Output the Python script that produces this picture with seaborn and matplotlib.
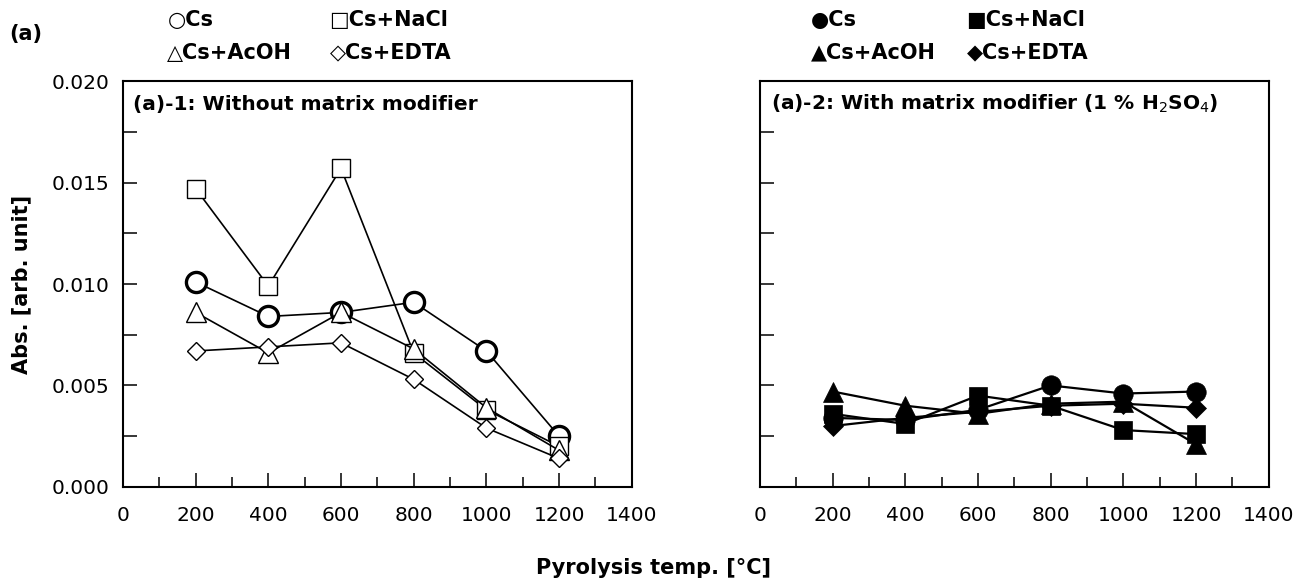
import numpy as np
import pandas as pd
import matplotlib
matplotlib.use("Agg")
import matplotlib.pyplot as plt
import seaborn as sns
from matplotlib.ticker import MultipleLocator, FormatStrFormatter

# data
temps = [200, 400, 600, 800, 1000, 1200]
series = ["Cs", "Cs+NaCl", "Cs+AcOH", "Cs+EDTA"]

# (a)-1: without matrix modifier
no_mod_cs   = [0.0101, 0.0084, 0.0086, 0.0091, 0.0067, 0.0025]
no_mod_nacl = [0.0147, 0.0099, 0.0157, 0.0066, 0.0038, 0.0020]
no_mod_acoh = [0.0086, 0.0066, 0.0086, 0.0068, 0.0039, 0.0018]
no_mod_edta = [0.0067, 0.0069, 0.0071, 0.0053, 0.0029, 0.0014]

# (a)-2: with matrix modifier (1 % H2SO4)
mod_cs   = [0.0034, 0.0033, 0.0038, 0.0050, 0.0046, 0.0047]
mod_nacl = [0.0036, 0.0031, 0.0045, 0.0040, 0.0028, 0.0026]
mod_acoh = [0.0047, 0.0040, 0.0036, 0.0041, 0.0042, 0.0021]
mod_edta = [0.0030, 0.0034, 0.0037, 0.0040, 0.0041, 0.0039]

sns.set_style("ticks")
plt.rcParams["font.family"] = ["DejaVu Sans"]
plt.rcParams["xtick.direction"] = "in"
plt.rcParams["ytick.direction"] = "in"
for k in ["text.color", "axes.labelcolor", "xtick.color", "ytick.color",
          "axes.edgecolor"]:
    plt.rcParams[k] = "black"

markers = {"Cs": "o", "Cs+NaCl": "s", "Cs+AcOH": "^", "Cs+EDTA": "D"}
msize   = {"Cs": 14.5, "Cs+NaCl": 13.5, "Cs+AcOH": 14.5, "Cs+EDTA": 8.7}
mew_open = {"Cs": 2.4, "Cs+NaCl": 1.0, "Cs+AcOH": 1.0, "Cs+EDTA": 1.0}
msize_fill = {"Cs": 14.0, "Cs+NaCl": 12.5, "Cs+AcOH": 14.0, "Cs+EDTA": 10.0}


def long_df(cs, nacl, acoh, edta):
    rows = []
    for name, vals in zip(series, [cs, nacl, acoh, edta]):
        for t, v in zip(temps, vals):
            rows.append({"temp": t, "abs": v, "sample": name})
    return pd.DataFrame(rows)


df1 = long_df(no_mod_cs, no_mod_nacl, no_mod_acoh, no_mod_edta)
df2 = long_df(mod_cs, mod_nacl, mod_acoh, mod_edta)

fig = plt.figure(figsize=(13.08, 5.88), dpi=100)
ax1 = fig.add_axes([0.094, 0.172, 0.389, 0.690])
ax2 = fig.add_axes([0.581, 0.172, 0.389, 0.690])

for name in series:
    sns.lineplot(data=df1[df1["sample"] == name], x="temp", y="abs", ax=ax1,
                 color="black", linewidth=1.2, marker=markers[name],
                 markersize=msize[name], markerfacecolor="white",
                 markeredgecolor="black", markeredgewidth=mew_open[name],
                 legend=False)
    sns.lineplot(data=df2[df2["sample"] == name], x="temp", y="abs", ax=ax2,
                 color="black", linewidth=1.6, marker=markers[name],
                 markersize=msize_fill[name], markerfacecolor="black",
                 markeredgecolor="black", markeredgewidth=0.5,
                 legend=False)

for ax in (ax1, ax2):
    ax.set_xlim(0, 1400)
    ax.set_ylim(0, 0.020)
    ax.xaxis.set_major_locator(MultipleLocator(200))
    ax.xaxis.set_minor_locator(MultipleLocator(100))
    ax.yaxis.set_major_locator(MultipleLocator(0.005))
    ax.yaxis.set_minor_locator(MultipleLocator(0.0025))
    ax.yaxis.set_major_formatter(FormatStrFormatter("%.3f"))
    ax.tick_params(which="major", length=10, width=1.1, labelsize=14.5)
    ax.tick_params(which="minor", length=7, width=1.1)
    ax.tick_params(axis="y", which="minor", length=10)
    ax.tick_params(axis="x", pad=14)
    ax.tick_params(axis="y", pad=10)
    for sp in ax.spines.values():
        sp.set_visible(True)
        sp.set_linewidth(1.5)
        sp.set_color("black")
    ax.set_xlabel("")
    ax.set_ylabel("")

ax2.tick_params(axis="y", labelleft=False)

ax1.text(0.02, 0.943, "(a)-1: Without matrix modifier", transform=ax1.transAxes,
         fontsize=14.5, fontweight="bold", ha="left", va="center")
ax2.text(0.022, 0.943, "(a)-2: With matrix modifier (1 % H$_2$SO$_4$)",
         transform=ax2.transAxes, fontsize=14.5, fontweight="bold",
         ha="left", va="center")

fig.text(0.016, 0.517, "Abs. [arb. unit]", rotation=90, fontsize=15,
         fontweight="bold", ha="center", va="center")
fig.text(0.5, 0.034, "Pyrolysis temp. [°C]", fontsize=15,
         fontweight="bold", ha="center", va="center")
fig.text(0.007, 0.942, "(a)", fontsize=15, fontweight="bold",
         ha="left", va="center")

# legend text rows above each panel
open_labels = ["○Cs", "□Cs+NaCl", "△Cs+AcOH", "◇Cs+EDTA"]
fill_labels = ["●Cs", "■Cs+NaCl", "▲Cs+AcOH", "◆Cs+EDTA"]
col_x_left = [0.128, 0.252]
col_x_right = [0.620, 0.739]
row_y = [0.966, 0.910]
for i, (lo, lf) in enumerate(zip(open_labels, fill_labels)):
    r, c = divmod(i, 2)
    fig.text(col_x_left[c], row_y[r], lo, fontsize=15, fontweight="bold",
             ha="left", va="center")
    fig.text(col_x_right[c], row_y[r], lf, fontsize=15, fontweight="bold",
             ha="left", va="center")

fig.savefig("out.png", dpi=100)
